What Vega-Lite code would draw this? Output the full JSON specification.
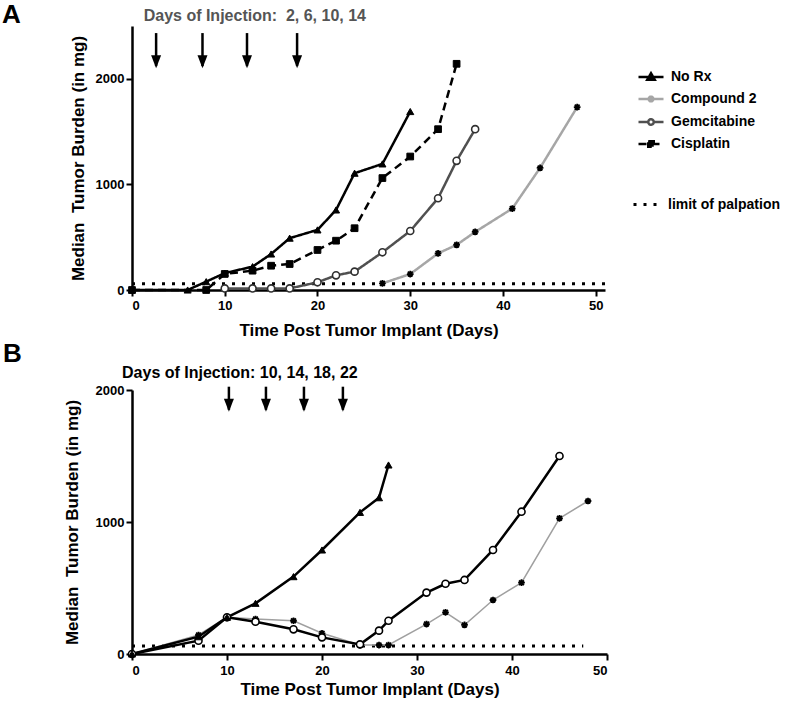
{
  "$schema": "https://vega.github.io/schema/vega-lite/v6.json",
  "background": "white",
  "padding": {"left": 2, "top": 1, "right": 2, "bottom": 2},
  "config": {
    "font": "Liberation Sans",
    "view": {"stroke": null},
    "axis": {
      "grid": false, "domainColor": "black", "domainWidth": 2.5, "tickColor": "black", "tickWidth": 2, "tickSize": 6,
      "labelFont": "Liberation Sans", "labelFontWeight": "bold", "labelFontSize": 13, "labelColor": "black",
      "titleFont": "Liberation Sans", "titleFontWeight": "bold", "titleFontSize": 17, "titleColor": "black"
    }
  },
  "datasets": {
    "A": [
      {"series": "No Rx", "day": 0, "mg": 0},
      {"series": "No Rx", "day": 6, "mg": 0},
      {"series": "No Rx", "day": 8, "mg": 79},
      {"series": "No Rx", "day": 10, "mg": 160},
      {"series": "No Rx", "day": 13, "mg": 221},
      {"series": "No Rx", "day": 15, "mg": 341},
      {"series": "No Rx", "day": 17, "mg": 491},
      {"series": "No Rx", "day": 20, "mg": 569},
      {"series": "No Rx", "day": 22, "mg": 758},
      {"series": "No Rx", "day": 24, "mg": 1106},
      {"series": "No Rx", "day": 27, "mg": 1194},
      {"series": "No Rx", "day": 30, "mg": 1690},
      {"series": "Cisplatin", "day": 0, "mg": 0},
      {"series": "Cisplatin", "day": 8, "mg": 0},
      {"series": "Cisplatin", "day": 10, "mg": 152},
      {"series": "Cisplatin", "day": 13, "mg": 183},
      {"series": "Cisplatin", "day": 15, "mg": 230},
      {"series": "Cisplatin", "day": 17, "mg": 246},
      {"series": "Cisplatin", "day": 20, "mg": 379},
      {"series": "Cisplatin", "day": 22, "mg": 467},
      {"series": "Cisplatin", "day": 24, "mg": 585},
      {"series": "Cisplatin", "day": 27, "mg": 1060},
      {"series": "Cisplatin", "day": 30, "mg": 1264},
      {"series": "Cisplatin", "day": 33, "mg": 1523},
      {"series": "Cisplatin", "day": 35, "mg": 2142},
      {"series": "Gemcitabine", "day": 10, "mg": 15},
      {"series": "Gemcitabine", "day": 13, "mg": 15},
      {"series": "Gemcitabine", "day": 15, "mg": 15},
      {"series": "Gemcitabine", "day": 17, "mg": 15},
      {"series": "Gemcitabine", "day": 20, "mg": 73},
      {"series": "Gemcitabine", "day": 22, "mg": 139},
      {"series": "Gemcitabine", "day": 24, "mg": 174},
      {"series": "Gemcitabine", "day": 27, "mg": 357},
      {"series": "Gemcitabine", "day": 30, "mg": 559},
      {"series": "Gemcitabine", "day": 33, "mg": 869},
      {"series": "Gemcitabine", "day": 35, "mg": 1223},
      {"series": "Gemcitabine", "day": 37, "mg": 1523},
      {"series": "Compound 2", "day": 27, "mg": 63},
      {"series": "Compound 2", "day": 30, "mg": 151},
      {"series": "Compound 2", "day": 33, "mg": 347},
      {"series": "Compound 2", "day": 35, "mg": 427},
      {"series": "Compound 2", "day": 37, "mg": 550},
      {"series": "Compound 2", "day": 41, "mg": 771},
      {"series": "Compound 2", "day": 44, "mg": 1156},
      {"series": "Compound 2", "day": 48, "mg": 1732}
    ],
    "B": [
      {"series": "No Rx", "day": 0, "mg": 0},
      {"series": "No Rx", "day": 7, "mg": 131},
      {"series": "No Rx", "day": 10, "mg": 278},
      {"series": "No Rx", "day": 13, "mg": 384},
      {"series": "No Rx", "day": 17, "mg": 586},
      {"series": "No Rx", "day": 20, "mg": 788},
      {"series": "No Rx", "day": 24, "mg": 1073},
      {"series": "No Rx", "day": 26, "mg": 1184},
      {"series": "No Rx", "day": 27, "mg": 1432},
      {"series": "Gemcitabine", "day": 0, "mg": 0},
      {"series": "Gemcitabine", "day": 7, "mg": 101},
      {"series": "Gemcitabine", "day": 10, "mg": 278},
      {"series": "Gemcitabine", "day": 13, "mg": 245},
      {"series": "Gemcitabine", "day": 17, "mg": 187},
      {"series": "Gemcitabine", "day": 20, "mg": 126},
      {"series": "Gemcitabine", "day": 24, "mg": 73},
      {"series": "Gemcitabine", "day": 26, "mg": 177},
      {"series": "Gemcitabine", "day": 27, "mg": 252},
      {"series": "Gemcitabine", "day": 31, "mg": 465},
      {"series": "Gemcitabine", "day": 33, "mg": 532},
      {"series": "Gemcitabine", "day": 35, "mg": 561},
      {"series": "Gemcitabine", "day": 38, "mg": 788},
      {"series": "Gemcitabine", "day": 41, "mg": 1078},
      {"series": "Gemcitabine", "day": 45, "mg": 1500},
      {"series": "Compound 2", "day": 0, "mg": 0},
      {"series": "Compound 2", "day": 7, "mg": 144},
      {"series": "Compound 2", "day": 10, "mg": 278},
      {"series": "Compound 2", "day": 13, "mg": 265},
      {"series": "Compound 2", "day": 17, "mg": 252},
      {"series": "Compound 2", "day": 20, "mg": 157},
      {"series": "Compound 2", "day": 24, "mg": 68},
      {"series": "Compound 2", "day": 26, "mg": 68},
      {"series": "Compound 2", "day": 27, "mg": 68},
      {"series": "Compound 2", "day": 31, "mg": 227},
      {"series": "Compound 2", "day": 33, "mg": 316},
      {"series": "Compound 2", "day": 35, "mg": 220},
      {"series": "Compound 2", "day": 38, "mg": 409},
      {"series": "Compound 2", "day": 41, "mg": 540},
      {"series": "Compound 2", "day": 45, "mg": 1028},
      {"series": "Compound 2", "day": 48, "mg": 1159}
    ],
    "limitA": [{"label": "limit of palpation", "day": 0, "day2": 51, "mg": 60}],
    "limitB": [{"label": "limit of palpation", "day": 0, "day2": 47.5, "mg": 60}],
    "arrowsA": [{"day": 2.6}, {"day": 7.6}, {"day": 12.4}, {"day": 17.8}],
    "arrowsB": [{"day": 10.2}, {"day": 14.1}, {"day": 18.1}, {"day": 22.2}],
    "panelA": [{"label": "A"}],
    "panelB": [{"label": "B"}],
    "injA": [{"label": "Days of Injection:\u00a0 2, 6, 10, 14"}],
    "injB": [{"label": "Days of Injection: 10, 14, 18, 22"}]
  },
  "bounds": "flush",
  "spacing": 100,
  "resolve": {"scale": {"color": "independent", "strokeDash": "independent", "shape": "independent", "fill": "independent", "stroke": "independent", "strokeWidth": "independent"}},
  "vconcat": [
    {
      "width": 473,
      "height": 264,
      "layer": [
        {
          "data": {"name": "limitA"},
          "mark": {"type": "rule", "strokeDash": [3, 7], "color": "black"},
          "encoding": {
            "x": {"field": "day", "type": "quantitative", "title": "Time Post Tumor Implant (Days)",
                  "scale": {"domain": [0, 51], "nice": false, "zero": false},
                  "axis": {"values": [0, 10, 20, 30, 40, 50], "format": "d", "labelPadding": 3, "titlePadding": 10}},
            "x2": {"field": "day2"},
            "y": {"field": "mg", "type": "quantitative", "title": "Median\u00a0 Tumor Burden (in mg)",
                  "scale": {"domain": [0, 2500], "nice": false},
                  "axis": {"values": [0, 1000, 2000], "format": "d", "labelPadding": 2, "titlePadding": 8}},
            "strokeWidth": {"field": "label", "type": "ordinal", "scale": {"range": [3, 3]},
              "legend": {"orient": "none", "legendX": 500, "legendY": 162, "title": null, "symbolSize": 900,
                "symbolDash": [3, 7], "symbolStrokeColor": "black", "symbolStrokeWidth": 3, "symbolType": "M-1,0H1",
                "labelFont": "Liberation Sans", "labelFontSize": 14, "labelFontWeight": "bold", "labelColor": "black",
                "labelOffset": 3, "padding": 0,
                "encode": {"symbols": {"update": {"shape": {"value": "M-1,0H1"}, "strokeDash": {"value": [3, 7]}}}}}}
          }
        },
        {
          "data": {"name": "A"},
          "mark": {"type": "line", "strokeWidth": 2.5},
          "encoding": {
            "x": {"field": "day", "type": "quantitative", "title": "Time Post Tumor Implant (Days)", "scale": {"domain": [0, 51], "nice": false, "zero": false}},
            "y": {"field": "mg", "type": "quantitative", "title": "Median\u00a0 Tumor Burden (in mg)", "scale": {"domain": [0, 2500], "nice": false}},
            "color": {"field": "series", "type": "nominal",
              "scale": {"domain": ["No Rx", "Compound 2", "Gemcitabine", "Cisplatin"], "range": ["#000000", "#a6a6a6", "#505050", "#000000"]},
              "legend": {"orient": "none", "legendX": 505, "legendY": 37, "title": null, "symbolSize": 625, "symbolStrokeWidth": 2.5,
                "labelFont": "Liberation Sans", "labelFontSize": 14, "labelFontWeight": "bold", "labelColor": "black",
                "labelOffset": 6, "rowPadding": -3, "padding": 0,
                "encode": {"symbols": {"update": {
                  "shape": {"signal": "datum.value === 'No Rx' ? 'M-1,0H1M0,-0.3L0.3,0.22L-0.3,0.22Z' : datum.value === 'Compound 2' ? 'M-1,0H1M0,-0.28V0.28M-0.2,-0.2L0.2,0.2M-0.2,0.2L0.2,-0.2' : datum.value === 'Gemcitabine' ? 'M-1,0H-0.22M0.22,0H1M0.22,0A0.22,0.22,0,1,1,-0.22,0A0.22,0.22,0,1,1,0.22,0' : 'M-1,0H1M-0.22,-0.22H0.22V0.22H-0.22Z'"},
                  "fill": {"signal": "datum.value === 'Gemcitabine' ? 'white' : datum.value === 'Compound 2' ? 'transparent' : 'black'"}
                }}}}},
            "strokeDash": {"field": "series", "type": "nominal",
              "scale": {"domain": ["No Rx", "Compound 2", "Gemcitabine", "Cisplatin"], "range": [[1, 0], [1, 0], [1, 0], [8, 5]]},
              "legend": {"orient": "none", "legendX": 505, "legendY": 37, "title": null, "symbolSize": 625, "symbolStrokeWidth": 2.5,
                "labelFont": "Liberation Sans", "labelFontSize": 14, "labelFontWeight": "bold", "labelColor": "black",
                "labelOffset": 6, "rowPadding": -3, "padding": 0,
                "encode": {"symbols": {"update": {
                  "shape": {"signal": "datum.value === 'No Rx' ? 'M-1,0H1M0,-0.3L0.3,0.22L-0.3,0.22Z' : datum.value === 'Compound 2' ? 'M-1,0H1M0,-0.28V0.28M-0.2,-0.2L0.2,0.2M-0.2,0.2L0.2,-0.2' : datum.value === 'Gemcitabine' ? 'M-1,0H-0.22M0.22,0H1M0.22,0A0.22,0.22,0,1,1,-0.22,0A0.22,0.22,0,1,1,0.22,0' : 'M-1,0H1M-0.22,-0.22H0.22V0.22H-0.22Z'"},
                  "fill": {"signal": "datum.value === 'Gemcitabine' ? 'white' : datum.value === 'Compound 2' ? 'transparent' : 'black'"}
                }}}}}
          }
        },
        {
          "data": {"name": "A"},
          "transform": [{"filter": "datum.series === 'Gemcitabine'"}],
          "mark": {"type": "point", "shape": "circle", "strokeWidth": 1.6, "opacity": 1, "size": 50, "fill": "white", "stroke": "#303030"},
          "encoding": {
            "x": {"field": "day", "type": "quantitative", "title": "Time Post Tumor Implant (Days)"},
            "y": {"field": "mg", "type": "quantitative", "title": "Median\u00a0 Tumor Burden (in mg)"}
          }
        },
        {
          "data": {"name": "A"},
          "transform": [{"filter": "datum.series === 'Compound 2'"}],
          "mark": {"type": "point", "shape": "M0,-1V1M-1,0H1M-0.72,-0.72L0.72,0.72M-0.72,0.72L0.72,-0.72", "strokeWidth": 1.8, "opacity": 1, "size": 45, "fill": "black", "stroke": "black"},
          "encoding": {
            "x": {"field": "day", "type": "quantitative", "title": "Time Post Tumor Implant (Days)"},
            "y": {"field": "mg", "type": "quantitative", "title": "Median\u00a0 Tumor Burden (in mg)"}
          }
        },
        {
          "data": {"name": "A"},
          "transform": [{"filter": "datum.series === 'Cisplatin'"}],
          "mark": {"type": "point", "shape": "square", "strokeWidth": 1, "opacity": 1, "size": 45, "fill": "black", "stroke": "black"},
          "encoding": {
            "x": {"field": "day", "type": "quantitative", "title": "Time Post Tumor Implant (Days)"},
            "y": {"field": "mg", "type": "quantitative", "title": "Median\u00a0 Tumor Burden (in mg)"}
          }
        },
        {
          "data": {"name": "A"},
          "transform": [{"filter": "datum.series === 'No Rx'"}],
          "mark": {"type": "point", "shape": "triangle-up", "strokeWidth": 1, "opacity": 1, "size": 50, "fill": "black", "stroke": "black"},
          "encoding": {
            "x": {"field": "day", "type": "quantitative", "title": "Time Post Tumor Implant (Days)"},
            "y": {"field": "mg", "type": "quantitative", "title": "Median\u00a0 Tumor Burden (in mg)"}
          }
        },
        {
          "data": {"name": "arrowsA"},
          "mark": {"type": "rule", "strokeWidth": 2.5, "color": "black"},
          "encoding": {
            "x": {"field": "day", "type": "quantitative", "title": "Time Post Tumor Implant (Days)"},
            "y": {"datum": 2433, "type": "quantitative"}, "y2": {"datum": 2120}}
        },
        {
          "data": {"name": "arrowsA"},
          "mark": {"type": "point", "shape": "M-1,-2.6L1,-2.6L0,0Z", "filled": true, "color": "black", "opacity": 1, "size": 100},
          "encoding": {
            "x": {"field": "day", "type": "quantitative", "title": "Time Post Tumor Implant (Days)"},
            "y": {"datum": 2101, "type": "quantitative"}}
        },
        {
          "data": {"name": "panelA"},
          "mark": {"type": "text", "fontSize": 26, "fontWeight": "bold", "align": "center", "baseline": "middle", "color": "black"},
          "encoding": {"x": {"datum": -13, "type": "quantitative"}, "y": {"datum": 2607, "type": "quantitative"}, "text": {"field": "label"}}
        },
        {
          "data": {"name": "injA"},
          "mark": {"type": "text", "fontSize": 16, "fontWeight": "bold", "align": "left", "baseline": "middle", "color": "#555555"},
          "encoding": {"x": {"datum": 1.26, "type": "quantitative"}, "y": {"datum": 2591, "type": "quantitative"}, "text": {"field": "label"}}
        }
      ]
    },
    {
      "width": 475,
      "height": 264,
      "layer": [
        {
          "data": {"name": "limitB"},
          "mark": {"type": "rule", "strokeDash": [3, 7], "strokeWidth": 3, "color": "black"},
          "encoding": {
            "x": {"field": "day", "type": "quantitative", "title": "Time Post Tumor Implant (Days)",
                  "scale": {"domain": [0, 50], "nice": false, "zero": false},
                  "axis": {"values": [0, 10, 20, 30, 40, 50], "format": "d", "labelPadding": 4, "titlePadding": 4}},
            "x2": {"field": "day2"},
            "y": {"field": "mg", "type": "quantitative", "title": "Median\u00a0 Tumor Burden (in mg)",
                  "scale": {"domain": [0, 2000], "nice": false},
                  "axis": {"values": [0, 1000, 2000], "format": "d", "labelPadding": 2, "titlePadding": 14}}
          }
        },
        {
          "data": {"name": "B"},
          "transform": [{"filter": "datum.series === 'Compound 2'"}],
          "mark": {"type": "line", "strokeWidth": 1.5, "color": "#a0a0a0"},
          "encoding": {
            "x": {"field": "day", "type": "quantitative", "title": "Time Post Tumor Implant (Days)"},
            "y": {"field": "mg", "type": "quantitative", "title": "Median\u00a0 Tumor Burden (in mg)"},
            "detail": {"field": "series"}}
        },
        {
          "data": {"name": "B"},
          "transform": [{"filter": "datum.series !== 'Compound 2'"}],
          "mark": {"type": "line", "strokeWidth": 2.5, "color": "#000000"},
          "encoding": {
            "x": {"field": "day", "type": "quantitative", "title": "Time Post Tumor Implant (Days)"},
            "y": {"field": "mg", "type": "quantitative", "title": "Median\u00a0 Tumor Burden (in mg)"},
            "detail": {"field": "series"}}
        },
        {
          "data": {"name": "B"},
          "transform": [{"filter": "datum.series === 'Compound 2'"}],
          "mark": {"type": "point", "shape": "M0,-1V1M-1,0H1M-0.72,-0.72L0.72,0.72M-0.72,0.72L0.72,-0.72", "strokeWidth": 1.8, "opacity": 1, "size": 45, "fill": "black", "stroke": "black"},
          "encoding": {
            "x": {"field": "day", "type": "quantitative", "title": "Time Post Tumor Implant (Days)"},
            "y": {"field": "mg", "type": "quantitative", "title": "Median\u00a0 Tumor Burden (in mg)"}
          }
        },
        {
          "data": {"name": "B"},
          "transform": [{"filter": "datum.series === 'Gemcitabine'"}],
          "mark": {"type": "point", "shape": "circle", "strokeWidth": 1.6, "opacity": 1, "size": 50, "fill": "white", "stroke": "black"},
          "encoding": {
            "x": {"field": "day", "type": "quantitative", "title": "Time Post Tumor Implant (Days)"},
            "y": {"field": "mg", "type": "quantitative", "title": "Median\u00a0 Tumor Burden (in mg)"}
          }
        },
        {
          "data": {"name": "B"},
          "transform": [{"filter": "datum.series === 'No Rx'"}],
          "mark": {"type": "point", "shape": "triangle-up", "strokeWidth": 1, "opacity": 1, "size": 50, "fill": "black", "stroke": "black"},
          "encoding": {
            "x": {"field": "day", "type": "quantitative", "title": "Time Post Tumor Implant (Days)"},
            "y": {"field": "mg", "type": "quantitative", "title": "Median\u00a0 Tumor Burden (in mg)"}
          }
        },
        {
          "data": {"name": "arrowsB"},
          "mark": {"type": "rule", "strokeWidth": 2.5, "color": "black"},
          "encoding": {
            "x": {"field": "day", "type": "quantitative", "title": "Time Post Tumor Implant (Days)"},
            "y": {"datum": 2025, "type": "quantitative"}, "y2": {"datum": 1850}}
        },
        {
          "data": {"name": "arrowsB"},
          "mark": {"type": "point", "shape": "M-1,-2.6L1,-2.6L0,0Z", "filled": true, "color": "black", "opacity": 1, "size": 100},
          "encoding": {
            "x": {"field": "day", "type": "quantitative", "title": "Time Post Tumor Implant (Days)"},
            "y": {"datum": 1836, "type": "quantitative"}}
        },
        {
          "data": {"name": "panelB"},
          "mark": {"type": "text", "fontSize": 26, "fontWeight": "bold", "align": "center", "baseline": "middle", "color": "black"},
          "encoding": {"x": {"datum": -12.6, "type": "quantitative"}, "y": {"datum": 2273, "type": "quantitative"}, "text": {"field": "label"}}
        },
        {
          "data": {"name": "injB"},
          "mark": {"type": "text", "fontSize": 16, "fontWeight": "bold", "align": "left", "baseline": "middle", "color": "#000000"},
          "encoding": {"x": {"datum": -1.05, "type": "quantitative"}, "y": {"datum": 2129, "type": "quantitative"}, "text": {"field": "label"}}
        }
      ]
    }
  ]
}
